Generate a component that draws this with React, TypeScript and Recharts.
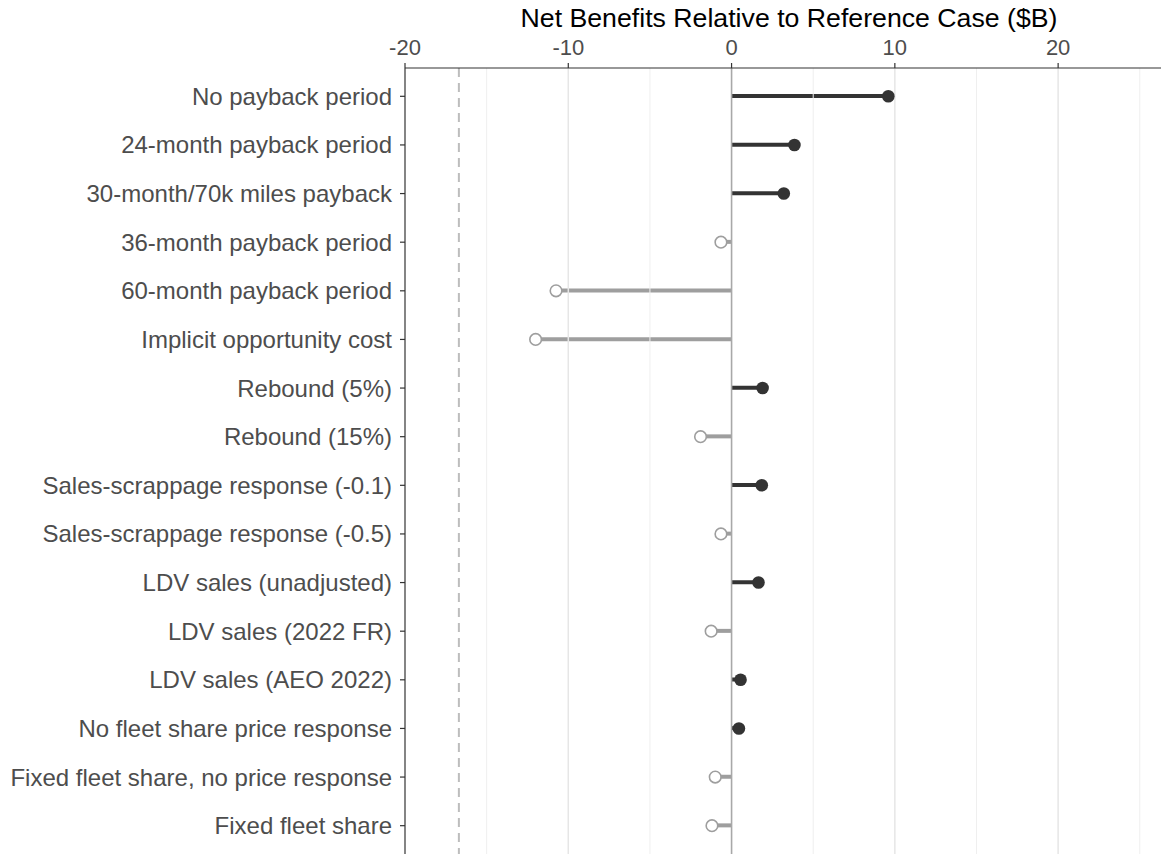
import React from "react";
import {
  ComposedChart,
  Bar,
  Line,
  XAxis,
  YAxis,
  ReferenceLine,
  Cell,
} from "recharts";

const categories = [
  "No payback period",
  "24-month payback period",
  "30-month/70k miles payback",
  "36-month payback period",
  "60-month payback period",
  "Implicit opportunity cost",
  "Rebound (5%)",
  "Rebound (15%)",
  "Sales-scrappage response (-0.1)",
  "Sales-scrappage response (-0.5)",
  "LDV sales (unadjusted)",
  "LDV sales (2022 FR)",
  "LDV sales (AEO 2022)",
  "No fleet share price response",
  "Fixed fleet share, no price response",
  "Fixed fleet share",
];

const netBenefits = [
  9.6, 3.85, 3.2, -0.65, -10.75, -12.0, 1.9, -1.9, 1.85, -0.65, 1.65, -1.25,
  0.55, 0.45, -1.0, -1.2,
];

const xTicks = [-20, -10, 0, 10, 20];
const minorGrid = [-15, -5, 5, 15, 25];
const majorGrid = [-10, 10, 20];
const dashedRef = -16.7;
const xDomain = [-20, 26.3];
const axisTitle = "Net Benefits Relative to Reference Case ($B)";

const data = categories.map((name, i) => ({ name, value: netBenefits[i] }));

const DARK = "#333333";
const GRAY = "#9E9E9E";
const FONT = "'Liberation Sans', Arial, sans-serif";

const renderDot = (props: any) => {
  const { cx, cy, payload, index } = props;
  if (cx == null || cy == null) return <g key={`d-${index}`} />;
  const pos = payload.value >= 0;
  return (
    <circle
      key={`d-${index}`}
      cx={cx}
      cy={cy}
      r={pos ? 6.3 : 5.8}
      fill={pos ? DARK : "#FFFFFF"}
      stroke={pos ? DARK : GRAY}
      strokeWidth={pos ? 0 : 1.6}
    />
  );
};

const TitleLabel = (props: any) => {
  const vb = props.viewBox || {};
  const x = (vb.x ?? 0) + (vb.width ?? 0) / 2 + 6;
  const y = (vb.y ?? 0) - 11;
  return (
    <text
      x={x}
      y={y}
      textAnchor="middle"
      fontSize={26.7}
      fontFamily={FONT}
      fill="#000000"
    >
      {axisTitle}
    </text>
  );
};

export default function App() {
  return (
    <div style={{ position: "absolute", left: 0, top: 0, background: "#fff" }}>
      <ComposedChart
        width={1161}
        height={855}
        data={data}
        layout="vertical"
        margin={{ top: 38, right: 0, bottom: 1, left: 0 }}
      >
        {minorGrid.map((v) => (
          <ReferenceLine
            key={`mi${v}`}
            x={v}
            stroke="#EFEFEF"
            strokeWidth={1}
          />
        ))}
        {majorGrid.map((v) => (
          <ReferenceLine key={`ma${v}`} x={v} stroke="#E6E6E6" strokeWidth={1.5} />
        ))}
        <ReferenceLine
          x={dashedRef}
          stroke="#BDBDBD"
          strokeWidth={2}
          strokeDasharray="9 6"
        />
        <ReferenceLine x={0} stroke="#A8A8A8" strokeWidth={1.6} />
        <XAxis
          type="number"
          orientation="top"
          domain={xDomain}
          ticks={xTicks}
          allowDataOverflow
          height={30}
          tickSize={5}
          tickMargin={8}
          axisLine={{ stroke: "#333333", strokeWidth: 1.2 }}
          tickLine={{ stroke: "#333333", strokeWidth: 1.2 }}
          tick={{ fill: "#4D4D4D", fontSize: 22, fontFamily: FONT }}
          label={<TitleLabel />}
        />
        <XAxis
          xAxisId="bottom"
          type="number"
          orientation="bottom"
          domain={xDomain}
          height={0}
          tick={false}
          tickLine={false}
          axisLine={{ stroke: "#333333", strokeWidth: 1.2 }}
        />
        <YAxis
          type="category"
          dataKey="name"
          width={405}
          interval={0}
          padding={{ top: 4, bottom: 4 }}
          tickSize={5}
          tickMargin={8}
          axisLine={{ stroke: "#333333", strokeWidth: 1.2 }}
          tickLine={{ stroke: "#333333", strokeWidth: 1.2 }}
          tick={{ fill: "#4D4D4D", fontSize: 24, fontFamily: FONT }}
        />
        <Bar dataKey="value" barSize={4} isAnimationActive={false}>
          {data.map((d, i) => (
            <Cell key={`c${i}`} fill={d.value >= 0 ? DARK : GRAY} />
          ))}
        </Bar>
        <Line
          dataKey="value"
          stroke="none"
          dot={renderDot}
          activeDot={false}
          isAnimationActive={false}
        />
      </ComposedChart>
    </div>
  );
}
